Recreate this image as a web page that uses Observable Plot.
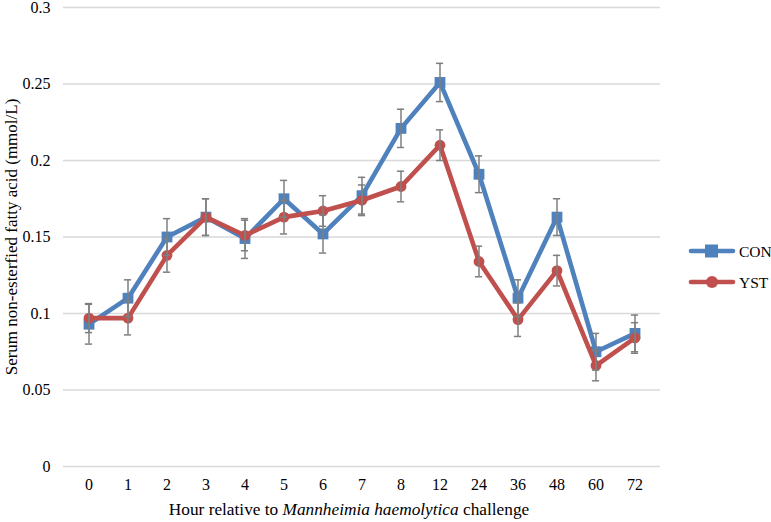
<!DOCTYPE html>
<html>
<head>
<meta charset="utf-8">
<script src="https://cdn.jsdelivr.net/npm/d3@7"></script>
<script src="https://cdn.jsdelivr.net/npm/@observablehq/plot@0.6"></script>
<style>
  html, body { margin: 0; padding: 0; background: #fff; }
  svg { display: block; }
</style>
</head>
<body>
<div id="chart"></div>
<script>
const hours = ["0","1","2","3","4","5","6","7","8","12","24","36","48","60","72"];
const conMean = [0.093, 0.110, 0.150, 0.163, 0.149, 0.175, 0.152, 0.177, 0.221, 0.251, 0.191, 0.110, 0.163, 0.075, 0.087];
const conSE   = [0.013, 0.012, 0.012, 0.012, 0.013, 0.012, 0.0125, 0.012, 0.0125, 0.0125, 0.012, 0.012, 0.012, 0.012, 0.012];
const ystMean = [0.097, 0.097, 0.138, 0.163, 0.151, 0.163, 0.167, 0.174, 0.183, 0.210, 0.134, 0.096, 0.128, 0.066, 0.084];
const ystSE   = [0.0095, 0.011, 0.011, 0.012, 0.010, 0.011, 0.010, 0.010, 0.010, 0.010, 0.010, 0.011, 0.010, 0.010, 0.010];
const yTicks = [0, 0.05, 0.1, 0.15, 0.2, 0.25, 0.3];
const seriesNames = ["CON", "YST"];
const seriesColors = ["#4F81BD", "#C0504D"];
const serif = "'Liberation Serif', 'Times New Roman', Times, 'DejaVu Serif', serif";

const con = hours.map((h, i) => ({hour: h, v: conMean[i], lo: conMean[i] - conSE[i], hi: conMean[i] + conSE[i]}));
const yst = hours.map((h, i) => ({hour: h, v: ystMean[i], lo: ystMean[i] - ystSE[i], hi: ystMean[i] + ystSE[i]}));

const errMarks = (data) => [
  Plot.ruleX(data, {x: "hour", y1: "lo", y2: "hi", stroke: "#7F7F7F", strokeWidth: 1.5}),
  Plot.tickY(data, {x: "hour", y: "lo", stroke: "#7F7F7F", strokeWidth: 1.5, insetLeft: 15.9, insetRight: 15.9}),
  Plot.tickY(data, {x: "hour", y: "hi", stroke: "#7F7F7F", strokeWidth: 1.5, insetLeft: 15.9, insetRight: 15.9})
];

const chart = Plot.plot({
  width: 771,
  height: 522,
  marginLeft: 63,
  marginRight: 111,
  marginTop: 7,
  marginBottom: 56,
  style: {fontSize: "16px", color: "#000", background: "#fff"},
  x: {type: "band", domain: hours, padding: 0},
  y: {domain: [0, 0.3]},
  marks: [
    Plot.gridY(yTicks, {stroke: "#D9D9D9", strokeOpacity: 1, strokeWidth: 1.3}),
    Plot.axisY(yTicks, {tickSize: 0, tickPadding: 13, fontSize: 16, tickFormat: d => String(+d.toFixed(2)), label: null}),
    Plot.axisY({tickSize: 0, ticks: [], fontSize: 17,
      label: "Serum non-esterfied fatty acid (mmol/L)", labelAnchor: "center", labelArrow: "none", labelOffset: 59}),
    Plot.axisX({tickSize: 0, tickPadding: 12, fontSize: 16, label: null}),
    Plot.line(con, {x: "hour", y: "v", stroke: seriesColors[0], strokeWidth: 4.6, strokeLinejoin: "round"}),
    Plot.dot(con, {x: "hour", y: "v", symbol: "square", r: 6.1, fill: seriesColors[0], stroke: "none"}),
    Plot.line(yst, {x: "hour", y: "v", stroke: seriesColors[1], strokeWidth: 4.6, strokeLinejoin: "round"}),
    Plot.dot(yst, {x: "hour", y: "v", symbol: "circle", r: 5.4, fill: seriesColors[1], stroke: "none"}),
    ...errMarks(con),
    ...errMarks(yst)
  ]
});

document.getElementById("chart").appendChild(chart);

const svg = d3.select(chart);

// x-axis title with italic species name
const xt = svg.append("text")
  .attr("x", 349)
  .attr("y", 515)
  .attr("text-anchor", "middle")
  .attr("fill", "#000")
  .style("font-size", "17.3px");
xt.append("tspan").text("Hour relative to ");
xt.append("tspan").attr("font-style", "italic").text("Mannheimia haemolytica");
xt.append("tspan").text(" challenge");

// legend
const lg = svg.append("g").attr("class", "legend");
seriesNames.forEach((name, i) => {
  const y = 251 + i * 31;
  const g = lg.append("g");
  g.append("line").attr("x1", 691).attr("x2", 733).attr("y1", y).attr("y2", y)
    .attr("stroke", seriesColors[i]).attr("stroke-width", 4.6).attr("stroke-linecap", "round");
  if (i === 0) {
    g.append("rect").attr("x", 705).attr("y", y - 6.5).attr("width", 13).attr("height", 13).attr("fill", seriesColors[i]);
  } else {
    g.append("circle").attr("cx", 712).attr("cy", y).attr("r", 6).attr("fill", seriesColors[i]);
  }
  g.append("text").attr("x", 739).attr("y", y + 5.5).attr("text-anchor", "start")
    .attr("fill", "#000").style("font-size", "15.5px").text(name);
});

svg.style("font-family", serif);
svg.selectAll("text").style("font-family", serif);
</script>
</body>
</html>
